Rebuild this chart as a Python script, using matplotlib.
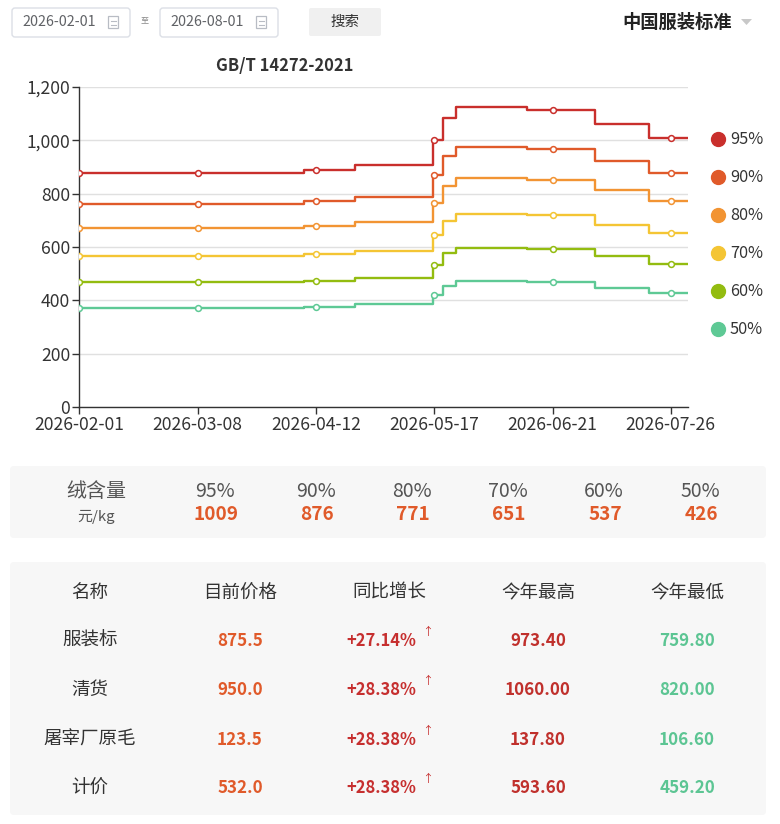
import matplotlib
matplotlib.use('Agg')
import matplotlib.pyplot as plt
import numpy as np
import pandas as pd
from matplotlib.patches import FancyBboxPatch, Rectangle, Polygon
from matplotlib.ticker import FuncFormatter, MultipleLocator

plt.rcParams['font.family'] = ['Noto Sans CJK SC', 'DejaVu Sans']

W, H = 780, 824

# ---- chart data ----
start_date = '2026-02-01'
end_date = '2026-07-31'
# first day of each new price level
change_dates = ['2026-04-09', '2026-04-24', '2026-05-17', '2026-05-20',
                '2026-05-24', '2026-06-14', '2026-07-04', '2026-07-20']
grades = ['95%', '90%', '80%', '70%', '60%', '50%']
p95 = [876, 887, 908, 1000, 1083, 1125, 1114, 1062, 1009]
p90 = [759.8, 771, 788, 868, 940, 973.4, 966, 923, 875.5]
p80 = [671, 678, 695, 764, 827, 859, 851, 812, 771]
p70 = [567, 573, 586, 645, 698, 725, 718, 684, 651]
p60 = [468, 472, 484, 534, 576, 597, 591, 565, 537]
p50 = [371, 375, 385, 422, 454, 472, 469, 447, 426]
colors = ['#c92f2c', '#e05a2a', '#f29433', '#f4c534', '#93bc10', '#5ec995']

# ---- panel data ----
latest = [1009, 876, 771, 651, 537, 426]
headers = ['名称', '目前价格', '同比增长', '今年最高', '今年最低']
names = ['服装标', '清货', '屠宰厂原毛', '计价']
cur_price = [875.5, 950.0, 123.5, 532.0]
yoy = [27.14, 28.38, 28.38, 28.38]
year_high = [973.40, 1060.00, 137.80, 593.60]
year_low = [759.80, 820.00, 106.60, 459.20]

fig = plt.figure(figsize=(W / 100, H / 100), dpi=100)
fig.patch.set_facecolor('white')

# overlay in pixel coords for the page widgets
ov = fig.add_axes([0, 0, 1, 1])
ov.set_xlim(0, W)
ov.set_ylim(H, 0)
ov.axis('off')

def pt(px):
    return px * 0.72

def box(x0, y0, x1, y1, fc, ec='none', r=4):
    ov.add_patch(FancyBboxPatch((x0, y0), x1 - x0, y1 - y0,
                                boxstyle=f'round,pad=0,rounding_size={r}',
                                fc=fc, ec=ec, lw=1))

# top bar
for x0, txt in [(12, '2026-02-01'), (160, '2026-08-01')]:
    box(x0, 8, x0 + 118, 37, 'white', '#dcdfe6', 3)
    ov.text(x0 + 10, 22, txt, fontsize=pt(14.3), color='#606266', va='center')
    ov.add_patch(Rectangle((x0 + 96, 16), 10, 12, fc='none', ec='#b8bcc4', lw=0.9))
    ov.plot([x0 + 98.5, x0 + 103.5], [21, 21], color='#b8bcc4', lw=0.8)
    ov.plot([x0 + 98.5, x0 + 103.5], [24.5, 24.5], color='#b8bcc4', lw=0.8)
ov.text(145, 20, '至', fontsize=pt(8), color='#888', ha='center', va='center')
box(309, 8, 381, 36, '#f0f0f0', r=2)
ov.text(345, 22, '搜索', fontsize=pt(14.5), color='#333', ha='center', va='center')
ov.text(732, 22, '中国服装标准', fontsize=pt(18.3), fontweight='bold', color='#222',
        ha='right', va='center')
ov.add_patch(Polygon([[741, 19], [752, 19], [746.5, 25]], closed=True, fc='#c8c8c8', ec='none'))

# chart
ax = fig.add_axes([79.4 / W, 1 - 407.3 / H, (687.7 - 79.4) / W, (407.3 - 86.7) / H])
ax.patch.set_alpha(0)
t0 = pd.Timestamp(start_date)
t1 = pd.Timestamp(end_date)
chg = pd.to_datetime(change_dates)
half = pd.Timedelta(hours=12)
xs = [t0] + [d - half for d in chg] + [t1]
mark_dates = pd.date_range(t0, periods=6, freq='35D')

series = [p95, p90, p80, p70, p60, p50]
for vals, c in zip(series, colors):
    ax.step(xs, list(vals) + [vals[-1]], where='post', color=c, lw=1.7, zorder=3)
    idx = np.searchsorted(chg.values, mark_dates.values, side='right')
    ax.plot(mark_dates, [vals[i] for i in idx], 'o', ms=4.2, mfc='white',
            mec=c, mew=1.1, zorder=4)

ax.set_xlim(t0, t1)
ax.set_ylim(0, 1200)
ax.yaxis.set_major_locator(MultipleLocator(200))
ax.yaxis.set_major_formatter(FuncFormatter(lambda v, p: f'{int(v):,}'))
ax.set_xticks(mark_dates)
ax.set_xticklabels([d.strftime('%Y-%m-%d') for d in mark_dates])
ax.grid(axis='y', color='#e0e0e0', lw=1)
ax.set_axisbelow(True)
for s in ['top', 'right']:
    ax.spines[s].set_visible(False)
for s in ['left', 'bottom']:
    ax.spines[s].set_color('#333')
    ax.spines[s].set_linewidth(1)
ax.tick_params(axis='both', colors='#333', labelcolor='#333', length=5, width=1,
               labelsize=pt(17.5), pad=1.5)
ax.text(285, 66, 'GB/T 14272-2021', fontsize=pt(16.5), fontweight='bold', color='#333',
        ha='center', va='center', transform=ov.transData)

# legend
for i, (g, c) in enumerate(zip(grades, colors)):
    y = 139 + 38 * i
    ov.scatter([718], [y], s=100, color=c, zorder=5)
    ov.text(730, y, g, fontsize=pt(16.3), color='#333', va='center')

# content panel
box(10, 466, 766, 538, '#f7f7f7')
ov.text(96, 491, '绒含量', fontsize=pt(20), color='#555', ha='center', va='center')
ov.text(96, 517, '元/kg', fontsize=pt(15), color='#555', ha='center', va='center')
cols = [215, 316, 412, 508, 604, 700]
for cx, g, v in zip(cols, grades, latest):
    ov.text(cx, 491, g, fontsize=pt(19.5), color='#555', ha='center', va='center')
    ov.text(cx + 1, 514, f'{v}', fontsize=pt(19), color='#e05a2a', fontweight='bold',
            ha='center', va='center')

# price table
box(10, 562, 766, 815, '#f7f7f7')
tcols = [90, 240, 389, 538, 687]
for cx, h in zip(tcols, headers):
    ov.text(cx, 593, h, fontsize=pt(18.5), color='#333', ha='center', va='center')
rows_y = [641, 690, 740, 788]
for y, n, cp, g, hi, lo in zip(rows_y, names, cur_price, yoy, year_high, year_low):
    ov.text(tcols[0], y, n, fontsize=pt(18.5), color='#333', ha='center', va='center')
    ov.text(tcols[1], y, f'{cp:.1f}', fontsize=pt(17), color='#e05a2a',
            fontweight='bold', ha='center', va='center')
    ov.text(tcols[2] - 8, y, f'+{g:.2f}%', fontsize=pt(16.5), color='#c62f2f',
            fontweight='bold', ha='center', va='center')
    ov.text(428, y - 9, '↑', fontsize=pt(11), color='#c62f2f', ha='center', va='center')
    ov.text(tcols[3], y, f'{hi:.2f}', fontsize=pt(17), color='#c0302c',
            fontweight='bold', ha='center', va='center')
    ov.text(tcols[4], y, f'{lo:.2f}', fontsize=pt(17), color='#5cc593',
            fontweight='bold', ha='center', va='center')

fig.savefig('out.png', dpi=100)
